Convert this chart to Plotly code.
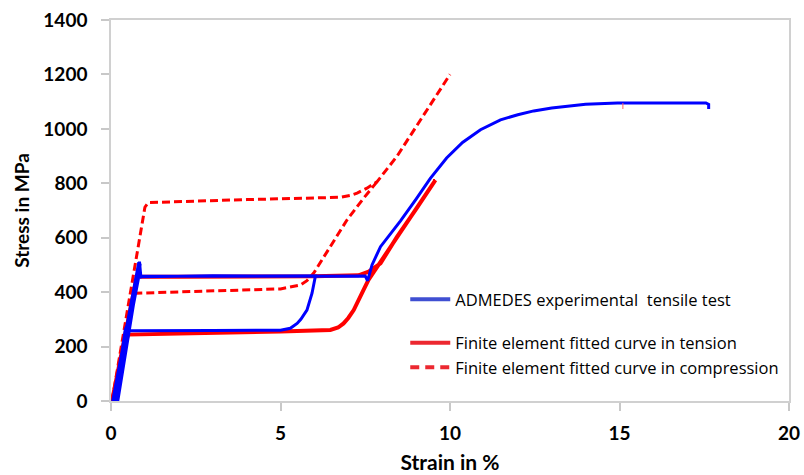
import plotly.graph_objects as go

# ---- ADMEDES experimental tensile test (blue) ----
exp_strain = [0.05, 0.82, 0.86, 0.95, 3.0, 6.03, 5.93, 5.78, 5.60, 5.49, 5.29, 5.0, 3.0, 1.0, 0.55, 0.45, 0.42, 0.12,
              0.20, 0.86, 0.84, 0.12,
              0.12, 0.84, 0.88, 1.0, 3.0, 5.0, 7.5, 7.57, 7.7, 7.95, 8.54, 9.0, 9.42, 9.9, 10.37, 10.9, 11.49, 12.0,
              12.47, 13.0, 13.46, 14.0, 14.94, 16.5, 17.55, 17.63, 17.63]
exp_stress = [0, 510, 455, 457, 460, 459, 396, 334, 300, 285, 267, 260, 259, 259, 258, 272, 262, 0,
              0, 505, 470, 0,
              0, 512, 458, 458, 460, 460, 459, 442, 500, 567, 662, 742, 818, 893, 950, 997, 1033, 1052,
              1066, 1077, 1084, 1090, 1095, 1096, 1095, 1090, 1073]

# small red mark near the blue plateau
mark_strain = [15.1, 15.1]
mark_stress = [1095, 1073]

# ---- Finite element fitted curve in tension (red solid) ----
ten_strain = [0.03, 0.76, 2.0, 4.0, 6.0, 7.3, 7.6, 7.95, 8.44, 9.0, 9.57,
              9.0, 8.44, 7.85, 7.6, 7.45, 7.3, 7.16, 7.0, 6.86, 6.7, 6.47, 5.0, 3.0, 1.0, 0.5, 0.03]
ten_stress = [0, 457, 457, 457, 458, 462, 475, 506, 604, 705, 812,
              705, 604, 494, 446, 408, 370, 334, 305, 285, 270, 261, 255, 251, 248, 244, 0]

# ---- Finite element fitted curve in compression (red dashed) ----
comp_load_strain = [0.03, 1.0, 1.1, 2.0, 4.0, 6.0, 6.8, 7.05, 7.26, 7.55, 7.85, 8.44, 9.0, 10.0]
comp_load_stress = [0, 712, 729, 733, 740, 746, 749, 755, 764, 782, 806, 900, 1008, 1200]
comp_unload_strain = [7.85, 7.45, 6.96, 6.47, 5.98, 5.78, 5.58, 5.0, 3.0, 1.15, 0.71, 0.03]
comp_unload_stress = [806, 745, 665, 567, 470, 442, 426, 412, 405, 398, 396, 0]

x_ticks = [0, 5, 10, 15, 20]
y_ticks = [0, 200, 400, 600, 800, 1000, 1200, 1400]

legend_names = ["ADMEDES experimental\u00a0 tensile test",
                "Finite element fitted curve in tension",
                "Finite element fitted curve in compression"]

BLUE = "#0000FF"
RED = "#FF0000"

fig = go.Figure()
fig.add_trace(go.Scatter(x=ten_strain, y=ten_stress, mode="lines",
                         line=dict(color=RED, width=4), showlegend=False))
fig.add_trace(go.Scatter(x=comp_load_strain, y=comp_load_stress, mode="lines",
                         line=dict(color=RED, width=3, dash="8px,4px"), showlegend=False))
fig.add_trace(go.Scatter(x=comp_unload_strain, y=comp_unload_stress, mode="lines",
                         line=dict(color=RED, width=3, dash="8px,4px"), showlegend=False))
fig.add_trace(go.Scatter(x=exp_strain, y=exp_stress, mode="lines",
                         line=dict(color=BLUE, width=3), showlegend=False))
fig.add_trace(go.Scatter(x=mark_strain, y=mark_stress, mode="lines",
                         line=dict(color="#FF6060", width=1), showlegend=False))

# legend entries
fig.add_trace(go.Scatter(x=[None], y=[None], mode="lines", name=legend_names[0],
                         line=dict(color="#3F4FD2", width=4), legendgroup="a"))
fig.add_trace(go.Scatter(x=[None], y=[None], mode="lines", name=legend_names[1],
                         line=dict(color="#EC2830", width=4), legendgroup="b"))
fig.add_trace(go.Scatter(x=[None], y=[None], mode="lines", name=legend_names[2],
                         line=dict(color="#EC2830", width=4, dash="9px,6px"), legendgroup="b"))

tick_font = dict(family="Lato", size=19, color="black", weight="bold")
xtitle_font = dict(family="Lato", size=21, color="black", weight="bold")
ytitle_font = dict(family="Lato", size=19, color="black", weight="bold")

fig.update_layout(
    width=804, height=475,
    margin=dict(l=111, r=15, t=20, b=74),
    plot_bgcolor="white", paper_bgcolor="white",
    showlegend=True,
    legend=dict(x=0.434, y=0.312, xanchor="left", yanchor="top",
                font=dict(family="Open Sans", size=16.5, color="black"),
                traceorder="grouped", tracegroupgap=19,
                bgcolor="rgba(0,0,0,0)", itemwidth=40),
    xaxis=dict(range=[0, 20], tickvals=x_ticks, ticktext=[str(v) for v in x_ticks],
               showgrid=False, zeroline=False, showline=True, linecolor="#D0D0D0", linewidth=1.5,
               mirror=True, ticks="outside", ticklen=8, tickcolor="#C8C8C8", tickwidth=1.5,
               tickfont=tick_font, ticklabelstandoff=6, automargin=False,
               title=dict(text="Strain in %", font=xtitle_font, standoff=13)),
    yaxis=dict(range=[0, 1400], tickvals=y_ticks, ticktext=[str(v) for v in y_ticks],
               showgrid=False, zeroline=False, showline=True, linecolor="#D0D0D0", linewidth=1.5,
               mirror=True, ticks="outside", ticklen=8, tickcolor="#C8C8C8", tickwidth=1.5,
               tickfont=tick_font, ticklabelstandoff=10, automargin=False,
               title=dict(text="Stress in MPa", font=ytitle_font, standoff=9)),
)

fig.write_html("out.html")
